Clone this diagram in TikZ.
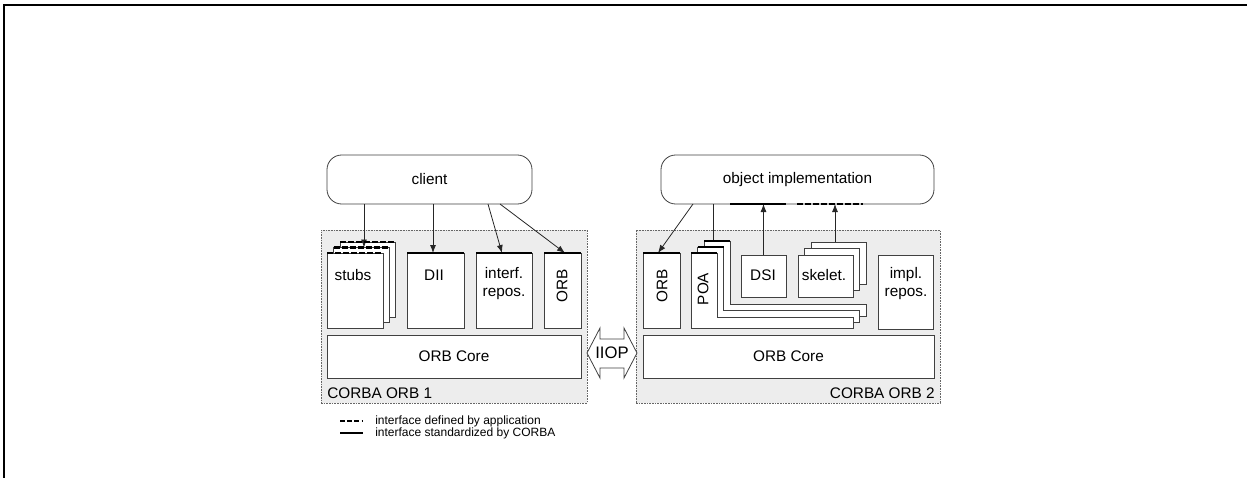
\documentclass[tikz,border=0pt]{standalone}
\usepackage{fontspec}
\setmainfont{Liberation Sans}
\usetikzlibrary{arrows.meta}
\newcommand\mkrect[6][]{\node[#1, minimum width={(#5-#3)*0.75pt}, minimum height={(#6-#4)*0.75pt}] (#2) at ({(#3+#5)/2},{(#4+#6)/2}) {};}
\tikzset{
 container/.style={draw=black!60, fill=black!7, dash pattern=on 1.2pt off 0.8pt, line width=0.6pt, inner sep=0pt, outer sep=0pt},
 page/.style={draw=black!75, fill=white, line width=0.6pt, inner sep=0pt, outer sep=0pt},
 proc/.style={draw=black!75, fill=white, line width=0.6pt, rounded corners=11pt, inner sep=0pt, outer sep=0pt},
 shapeln/.style={draw=black!75, fill=white, line width=0.6pt},
 conn/.style={draw=black!85, line width=0.6pt},
 arr/.style={conn, -{Latex[length=6pt,width=4.5pt]}},
 stdif/.style={line width=2.2pt, black},
 appif/.style={line width=2.2pt, black, dash pattern=on 4.5pt off 1.5pt},
 legapp/.style={line width=2.2pt, black, dash pattern=on 3.6pt off 1.8pt},
 lbl/.style={font=\fontsize{11.5}{13.5}\selectfont, inner sep=0pt, align=center},
 small/.style={font=\fontsize{9}{11}\selectfont, inner sep=0pt, anchor=west},
}
\begin{document}
\begin{tikzpicture}[x=0.75pt,y=-0.75pt]
\useasboundingbox (0,0) rectangle (1247,478);
\draw[line width=1.5pt] (4,478) -- (4,5) -- (1247,5);
% containers
\mkrect[container]{orb1}{321}{230}{587}{403}
\mkrect[container]{orb2}{636}{230}{940}{403}
\node[lbl, anchor=west] (orb1t) at (327,393) {CORBA ORB 1};
\node[lbl, anchor=east] (orb2t) at (935,393) {CORBA ORB 2};
% top processes
\mkrect[proc]{client}{327}{155}{532}{204}
\node[lbl] (clientt) at (client) {client};
\mkrect[proc]{objimpl}{661}{155}{934}{204}
\node[lbl] (objimplt) at (objimpl) {object implementation};
% cores
\mkrect[page]{core1}{327}{335}{581}{378}
\node[lbl] (core1t) at (core1) {ORB Core};
\mkrect[page]{core2}{643}{335}{934}{378}
\node[lbl] (core2t) at (core2) {ORB Core};
% ORB 1 components
\mkrect[page]{stubsC}{340}{242}{395}{317}
\mkrect[page]{stubsB}{333.5}{247.5}{389}{322.5}
\mkrect[page]{stubsA}{327}{253}{383}{328}
\node[lbl] (stubst) at (353,275) {stubs};
\mkrect[page]{dii}{407}{253}{464}{328}
\node[lbl] (diit) at (434,275) {DII};
\mkrect[page]{ifr}{476}{253}{532}{328}
\node[lbl] (ifrt) at (504,284) {interf.\\repos.};
\mkrect[page]{orbA}{544}{253}{581}{328}
\node[lbl, rotate=90] (orbAt) at (562,286) {ORB};
% ORB 2 components
\mkrect[page]{orbB}{643}{253}{680}{328}
\node[lbl, rotate=90] (orbBt) at (662,286) {ORB};
\draw[shapeln] (704,241) -- (730,241) -- (730,304) -- (866,304) -- (866,316) -- (704,316) -- cycle;
\draw[shapeln] (697.5,247) -- (723.5,247) -- (723.5,310.5) -- (859.5,310.5) -- (859.5,322) -- (697.5,322) -- cycle;
\draw[shapeln] (691,253) -- (717,253) -- (717,317) -- (853,317) -- (853,328) -- (691,328) -- cycle;
\coordinate (poa3) at (713,241);
\node[lbl, rotate=90] (poat) at (703,289) {POA};
\mkrect[page]{dsi}{741}{255}{786}{297}
\node[lbl] (dsit) at (763,275) {DSI};
\mkrect[page]{skelC}{811}{242}{866}{284}
\mkrect[page]{skelB}{804.5}{248.5}{859.5}{290.5}
\mkrect[page]{skelA}{798}{255}{853}{297}
\node[lbl] (skelt) at (824,275) {skelet.};
\mkrect[page]{implr}{878}{255}{933}{329}
\node[lbl] (implt) at (906,284) {impl.\\repos.};
% IIOP
\draw[shapeln] (587,353) -- (600,328) -- (600,339) -- (624,339) -- (624,328) -- (637,353) -- (624,378) -- (624,368) -- (600,368) -- (600,378) -- cycle;
\node[lbl, font=\fontsize{12.5}{14}\selectfont] (iiop) at (612,353) {IIOP};
% connectors
\draw[arr] (client.south -| 364,0) -- (364,0 |- stubsB.north);
\draw[arr] (client.south -| 433,0) -- (433,0 |- dii.north);
\draw[arr] (client.south -| 488,0) -- (502,0 |- ifr.north);
\draw[arr] (client.south -| 500,0) -- (565,0 |- orbA.north);
\draw[arr] (objimpl.south -| 693,0) -- (658,0 |- orbB.north);
\draw[conn] (objimpl.south -| 713,0) -- (poa3);
\draw[arr] (dsi.north) -- (objimpl.south -| dsi.north);
\draw[arr] (835,0 |- skelC.north) -- (objimpl.south -| 835,0);
% interface marks
\draw[appif] (stubsC.north west) -- (stubsC.north east);
\draw[appif] (stubsB.north west) -- (stubsB.north east);
\draw[appif] (stubsA.north west) -- (stubsA.north east);
\draw[stdif] (dii.north west) -- (dii.north east);
\draw[stdif] (ifr.north west) -- (ifr.north east);
\draw[stdif] (orbA.north west) -- (orbA.north east);
\draw[stdif] (orbB.north west) -- (orbB.north east);
\draw[stdif] (704,241) -- (730,241);
\draw[stdif] (697.5,247) -- (723.5,247);
\draw[stdif] (691,253) -- (717,253);
\draw[stdif] (730,0 |- objimpl.south) -- (786,0 |- objimpl.south);
\draw[appif] (797,0 |- objimpl.south) -- (863,0 |- objimpl.south);
% legend
\node[small] (leg1) at (375,421) {interface defined by application};
\node[small] (leg2) at (375,433) {interface standardized by CORBA};
\draw[legapp] (340,0 |- leg1.west) -- (363,0 |- leg1.west);
\draw[stdif] (340,0 |- leg2.west) -- (363,0 |- leg2.west);
\end{tikzpicture}
\end{document}
